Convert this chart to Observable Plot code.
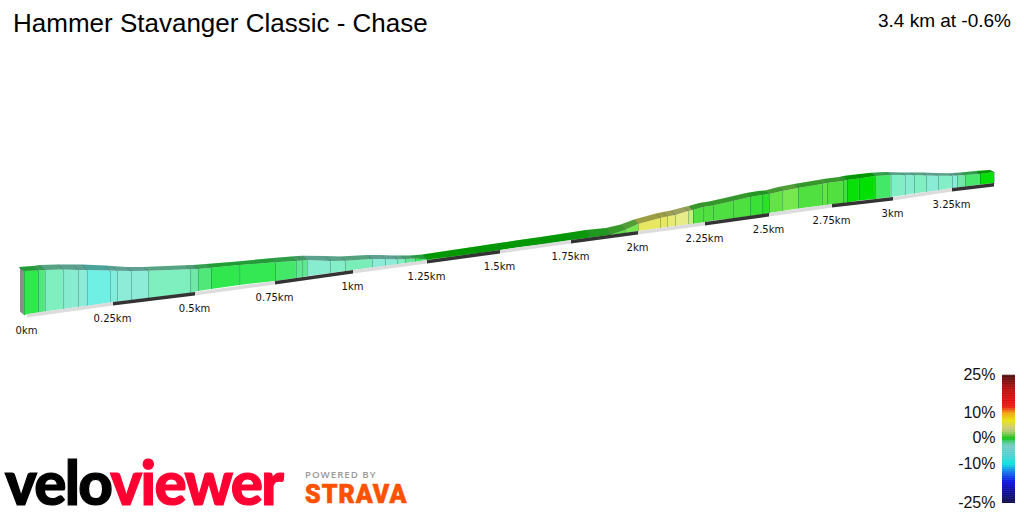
<!DOCTYPE html>
<html>
<head>
<meta charset="utf-8">
<script src="https://cdn.jsdelivr.net/npm/d3@7"></script>
<script src="https://cdn.jsdelivr.net/npm/@observablehq/plot@0.6"></script>
<style>
html,body{margin:0;padding:0;background:#fff;width:1024px;height:512px;overflow:hidden}
#stage{position:relative;width:1024px;height:512px;font-family:"Liberation Sans",Arial,sans-serif}
#stage svg{position:absolute;left:0;top:0;background:transparent}
#title{position:absolute;left:13px;top:8px;font-size:26px;color:#000;white-space:nowrap}
#summary{position:absolute;right:13px;top:10px;font-size:19px;color:#000;white-space:nowrap}
#legend{position:absolute;left:950px;top:360px;width:74px;height:152px}
.logo{position:absolute;white-space:nowrap;line-height:1}
#velo{left:5px;top:446px;font:900 60px Lato,sans-serif;letter-spacing:-1.7px;-webkit-text-stroke:1.2px #000}
#velo span{color:#ff0033;-webkit-text-stroke:1.2px #ff0033}
#powered{left:305px;top:468px;font:600 9.7px "Open Sans",sans-serif;letter-spacing:1px;color:#999}
#strava{left:305px;top:480px;font:900 25px Roboto,sans-serif;letter-spacing:1px;color:#fc5200;-webkit-text-stroke:.6px #fc5200}
</style>
</head>
<body>
<div id="stage">
  <div id="title">Hammer Stavanger Classic - Chase</div>
  <div id="summary">3.4 km at -0.6%</div>
  <div id="chart"></div>
  <div id="legend"></div>
  <div class="logo" id="velo">velo<span>viewer</span></div>
  <div class="logo" id="powered">POWERED BY</div>
  <div class="logo" id="strava">STRAVA</div>
</div>
<script>
// distance of each gradient-band boundary (km)
const bandKm = [-0.009,0.032,0.052,0.105,0.148,0.174,0.241,0.262,0.305,0.357,0.485,0.509,0.55,0.638,0.75,0.817,0.837,0.853,0.926,0.974,1.064,1.108,1.149,1.176,1.209,1.25,1.329,1.432,1.5,1.57,1.658,1.75,1.821,1.896,1.951,2,2.082,2.108,2.138,2.187,2.205,2.243,2.281,2.359,2.426,2.473,2.5,2.552,2.615,2.71,2.73,2.795,2.811,2.86,2.926,2.99,3.05,3.089,3.14,3.191,3.25,3.268,3.296,3.35,3.4];
// projected height of road, front upper edge and back upper edge at each boundary
const roadH = [197,199.4,200.4,203,205,206,209.5,210.5,212,214,219,221,223,227,231,234,235,236,239,241,244.5,246,247.5,249,250,252,255,259,262,265,268,272,274.5,277,279,281,284,285,286,287.5,288,289.5,291.5,293.5,296,297.5,299,301,303.5,306.5,307,309,309.5,311.5,313,315,317,318.5,320,321.5,324,324.5,325.5,327.5,329];
const frontH = [241,241.5,242,242.5,242,242,241.5,241.3,241,241.3,242.7,243,244.3,247,249.7,251,251.5,252,251,251.3,253,253,252.7,253,253.5,252.5,255.3,259,262,265,268,272,274.5,277,282,288,294,295.5,297,301,302,305,306.5,311,315,317,318,321,324,328,329,331,332,333.5,336,337,337,337,336.5,336.3,336.3,336.5,337,338,340];
const backH = [245,246,247,247.5,247.5,247.5,246.5,246,245,245,246.7,247,248,250.3,253.7,255.5,256,256.3,256,255.5,257,257,256.5,256.5,256.5,257.5,261,265.4,268.4,271.4,275.1,279,282,284,287.5,292.5,298.5,300,301.5,305,306,309,310.5,315,319,321,321.5,325,328,332,333,335,336,337.5,339.3,340,339.5,339.5,339.5,339,338.7,339,339.5,341,342];
// gradient (%) of each band
const bandGrade = [-0.7,-1.5,-3.5,-4.5,-5,-8,-6,-5,-5,-3.5,-2.5,-1.5,-0.7,-0.8,-1.2,-2,-2,-4.5,-4,-3.2,-5,-5,-3.5,-2.2,-1,0,0,0.3,0.3,0.5,0.3,1,1.5,2.5,3,7,7,6.5,6,5,2.3,2.3,2.2,2.2,1.7,1.4,2.7,3,2.3,2.7,2.4,1.8,0.5,0,-1.2,-3.8,-4.5,-3.7,-4.8,-4,-5.3,-2.6,-1.3,0.3];
// colours of the lit front wall
const wallGrades = [-8,-5,-3.5,-2.5,-1.5,-0.7,0,1,1.5,2,2.5,3,4,5,6,7];
const wallColors = ["#6ef0e4","#8cecd8","#80efc0","#70e8a8","#50e878","#30e84e","#00e000","#10e010","#30e030","#48e040","#55e040","#78e850","#b0f060","#c8f078","#e8ec88","#e8e860"];
// distance ticks
const tickKm = [0,0.25,0.5,0.75,1,1.25,1.5,1.75,2,2.25,2.5,2.75,3,3.25,3.4];
const tickLabel = ["0km","0.25km","0.5km","0.75km","1km","1.25km","1.5km","1.75km","2km","2.25km","2.5km","2.75km","3km","3.25km",""];
const tickRoadH = [198,210,220,231,242,252,262,272,281,290,299,308,315,324,329];
const tickScreen = [27,113,195,275,353,427,500,571,638,705,769,832,893,952,994];
// legend
const legendGrades = [-25,-20,-17,-13,-10,-7,-3,-1.5,0,1,2.5,4,7,10,12.5,15,20,25];
const legendColors = ["#000040","#0000a0","#0000e0","#0070e8","#00e0e0","#40d0d0","#70c8c0","#40c880","#00c000","#50c030","#a0c860","#c8c870","#e8e000","#f0a000","#e81000","#e00000","#b00000","#400000"];
const legendTicks = [-25,-10,0,10,25];
const legendTickScreen = [143,104,78,53,15];

const skewKm = 0.015, roadDepth = 3.5;

// a Plot colour interpolator (t in 0..1) through a list of stops
const stops = (grades, colors) => {
  const [lo, hi] = d3.extent(grades);
  const s = d3.scaleLinear().domain(grades).range(colors).interpolate(d3.interpolateRgb);
  return t => s(lo + t * (hi - lo));
};

// table with two rows per band: each band is one filled series
const bands = bandGrade.flatMap((grade, i) => [i, i + 1].map(j => ({
  seg: i, grade, km: bandKm[j], back: bandKm[j] - skewKm,
  road: roadH[j], front: frontH[j], top: backH[j]
})));
const edges = bandKm.map((km, i) => ({km, back: km - skewKm, road: roadH[i], front: frontH[i], top: backH[i]}));
const roadSegs = tickKm.slice(0, -1).flatMap((_, i) => [i, i + 1].map(j => ({
  seg: i, km: tickKm[j], h: tickRoadH[j]
})));
const endFace = [
  {km: bandKm[0] - skewKm * 0.75, road: roadH[0] + roadDepth, top: backH[0]},
  {km: bandKm[0], road: roadH[0], top: frontH[0]}
];
const ticks = tickKm.map((km, i) => ({km, h: tickRoadH[i], label: tickLabel[i]}));

const chart = Plot.plot({
  width: 1024, height: 512,
  margin: 0,
  style: {background: "transparent"},
  x: {transform: d3.scaleLinear().domain(tickKm).range(tickScreen), domain: [0, 1024], range: [0, 1024], axis: null},
  y: {domain: [0, 512], range: [512, 0], axis: null},
  color: {type: "linear", domain: d3.extent(wallGrades), interpolate: stops(wallGrades, wallColors)},
  marks: [
    Plot.areaY(endFace, {x: "km", y1: "road", y2: "top", fill: "#8a8a8a"}),
    Plot.areaY(bands, {x: "km", y1: "road", y2: "front", z: "seg", fill: "grade"}),
    Plot.area(bands, {x1: "km", y1: "front", x2: "back", y2: "top", z: "seg", fill: "grade"}),
    Plot.area(bands, {x1: "km", y1: "front", x2: "back", y2: "top", z: "seg", fill: "#000", fillOpacity: 0.32}),
    Plot.link(edges, {x1: "km", x2: "km", y1: "road", y2: "front", stroke: "#004040", strokeOpacity: 0.3, strokeWidth: 1}),
    Plot.link(edges, {x1: "km", x2: "back", y1: "front", y2: "top", stroke: "#004040", strokeOpacity: 0.3, strokeWidth: 1}),
    Plot.areaY(roadSegs, {
      x: "km", y1: "h", y2: d => d.h - roadDepth, z: "seg",
      fill: d => d.seg % 2 ? "#333333" : "#dcdcdc"
    }),
    Plot.text(ticks, {
      x: "km", y: "h", text: "label", dy: 16, dx: -1,
      fontFamily: "DejaVu Sans", fontSize: 10, fill: "#111"
    })
  ]
});
document.getElementById("chart").append(chart);

const steps = d3.range(-25, 25, 0.25);
const legend = Plot.plot({
  width: 74, height: 152,
  margin: 0,
  style: {background: "transparent"},
  x: {domain: [0, 74], range: [0, 74], axis: null},
  y: {transform: d3.scaleLinear().domain(legendTicks).range(legendTickScreen), domain: [0, 152], range: [0, 152], axis: null},
  color: {type: "linear", domain: d3.extent(legendGrades), interpolate: stops(legendGrades, legendColors)},
  marks: [
    Plot.rect(steps, {x1: () => 52, x2: () => 65, y1: d => d, y2: d => d + 0.35, fill: d => d + 0.125}),
    Plot.text(legendTicks, {
      x: () => 45, y: d => d, text: d => d + "%", textAnchor: "end", dy: -1,
      fontFamily: "Liberation Sans", fontSize: 16, fill: "#111"
    })
  ]
});
document.getElementById("legend").append(legend);
</script>
</body>
</html>
